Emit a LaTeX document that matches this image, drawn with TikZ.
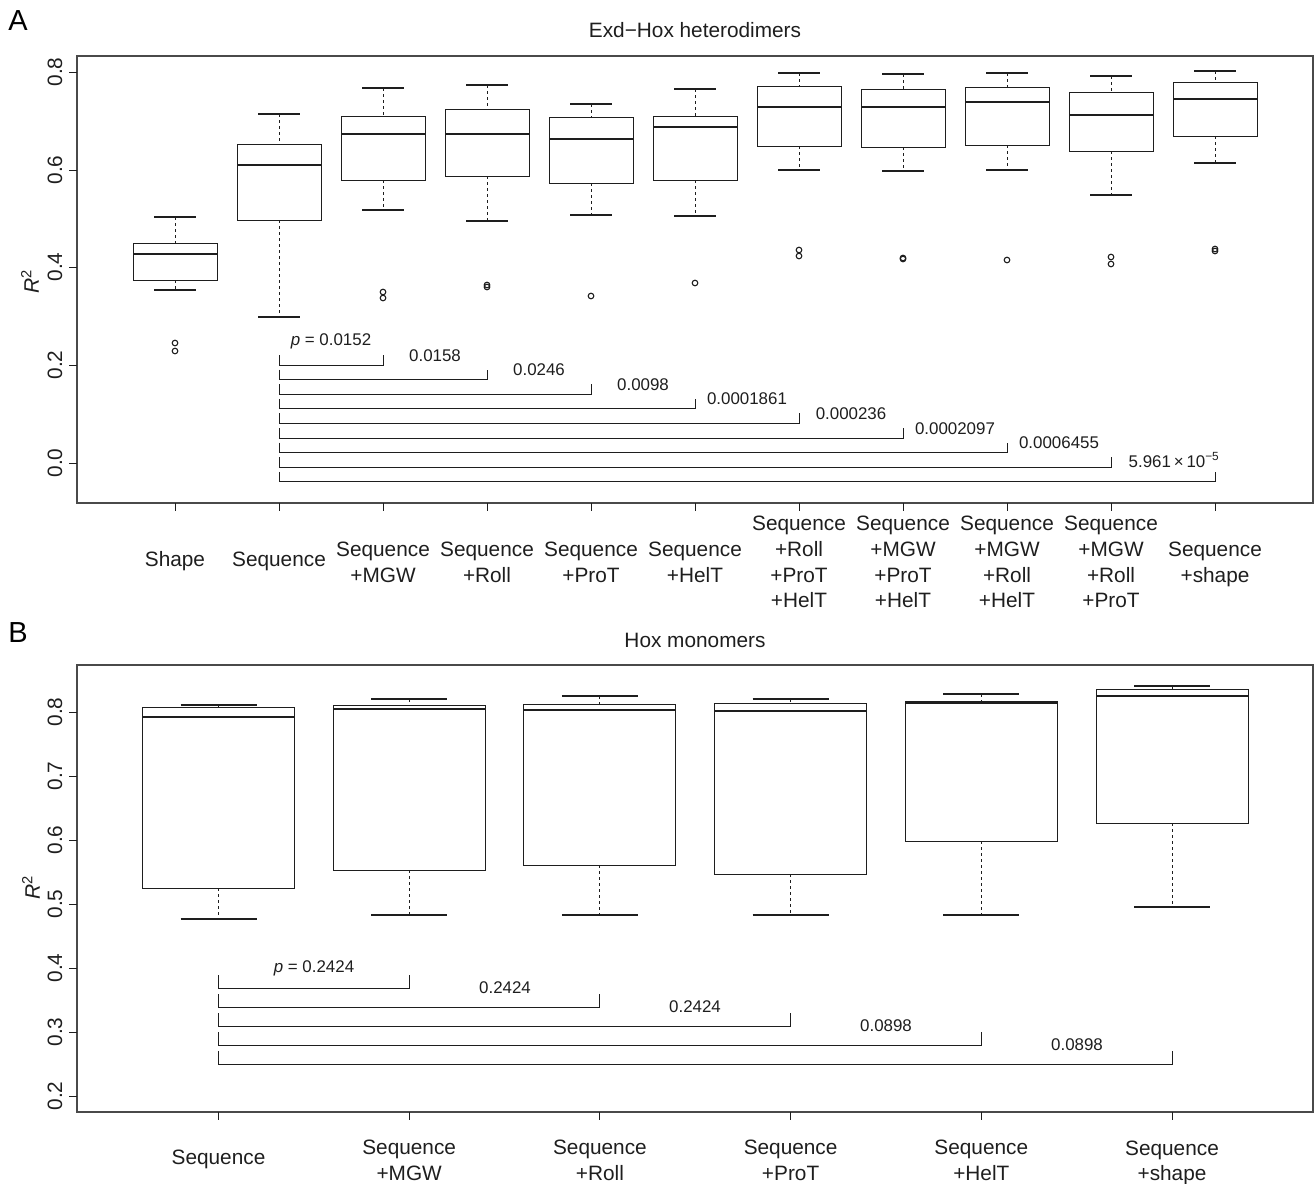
\documentclass[tikz,border=0pt]{standalone}
\usepackage{fontspec}
\setmainfont{Liberation Sans}
\definecolor{ink}{HTML}{1E1E1E}
\definecolor{framec}{HTML}{4A4A4A}
\newcommand\bxp[8]{% x, half box, half cap, upper whisker, box top, median, box bottom, lower whisker
  \draw[wsk] (#1,#4) -- (#1,#5);
  \draw[wsk] (#1,#7) -- (#1,#8);
  \draw[capl] ({#1-#3},#4) -- ({#1+#3},#4);
  \draw[capl] ({#1-#3},#8) -- ({#1+#3},#8);
  \draw[boxl] ({#1-#2},#5) rectangle ({#1+#2},#7);
  \draw[med] ({#1-#2},#6) -- ({#1+#2},#6);
}
\newcommand\brk[4]{% x left, x right, y, tick height
  \draw[brl] (#1,#3-#4) -- (#1,#3) -- (#2,#3) -- (#2,#3-#4);
}
\begin{document}
\begin{tikzpicture}[x=1pt,y=-1pt,
  txt/.style={font=\fontsize{20.8}{25.7}\selectfont, text=ink, inner sep=0pt, align=center},
  ytl/.style={font=\fontsize{20.8}{24}\selectfont, text=ink, inner sep=0pt, rotate=90},
  pv/.style={font=\fontsize{16.9}{20}\selectfont, text=ink, inner sep=0pt},
  panel/.style={font=\fontsize{29}{32}\selectfont, text=black, inner sep=0pt},
  frame/.style={draw=framec, line width=1.2pt},
  boxl/.style={draw=ink, line width=1.0pt},
  med/.style={draw=ink, line width=2.8pt},
  wsk/.style={draw=ink, line width=0.9pt, dash pattern=on 3pt off 3pt},
  capl/.style={draw=ink, line width=1.1pt},
  brl/.style={draw=ink, line width=1.0pt},
  outl/.style={draw=ink, line width=1.1pt},
  tickl/.style={draw=ink, line width=1.0pt},
]
\useasboundingbox (0,0) rectangle (1314,1183);

% ================= Panel A =================
\node[panel] (labA) at (18,21) {A};
\node[txt] (titA) at (695,30) {Exd−Hox heterodimers};
\draw[frame] (77,56) rectangle (1313,503);

% y axis
\foreach \v/\yy in {0.0/463,0.2/365,0.4/267,0.6/170,0.8/72}{
  \draw[tickl] (69,\yy) -- (77,\yy);
  \node[ytl] at (55,\yy) {\v};
}
\node[ytl, font=\fontsize{21}{24}\selectfont] (rA) at (30,282) {\itshape R\textsuperscript{\upshape 2}};

% x ticks
\foreach \i in {0,...,10}{
  \draw[tickl] ({175+104*\i},503) -- ({175+104*\i},511);
}

% boxes
\bxp{175}{42}{21}{217}{243}{254}{280}{290}
\bxp{279}{42}{21}{114}{144}{165}{220}{317}
\bxp{383}{42}{21}{88}{116}{134}{180}{210}
\bxp{487}{42}{21}{85}{109}{134}{176}{221}
\bxp{591}{42}{21}{104}{117}{139}{183}{215}
\bxp{695}{42}{21}{89}{116}{127}{180}{216}
\bxp{799}{42}{21}{73}{86}{107}{146}{170}
\bxp{903}{42}{21}{74}{89}{107}{147}{171}
\bxp{1007}{42}{21}{73}{87}{102}{145}{170}
\bxp{1111}{42}{21}{76}{92}{115}{151}{195}
\bxp{1215}{42}{21}{71}{82}{99}{136}{163}

% outliers
\foreach \xx/\yy in {175/343,175/351,383/292,383/298,487/285,487/287,591/296,695/283,
  799/250,799/256,903/258,903/259,1007/260,1111/257,1111/264,1215/249,1215/251}{
  \draw[outl] (\xx,\yy) circle[radius=2.8];
}

% p-value brackets
\foreach \i [evaluate=\i as \xr using 383+104*\i, evaluate=\i as \yb using 365+14.6*\i] in {0,...,8}{
  \brk{279}{\xr}{\yb}{10}
}
\node[pv] (pA1) at (331,341) {{\itshape p} = 0.0152};
\node[pv] (pA2) at (435,356) {0.0158};
\node[pv] (pA3) at (539,370) {0.0246};
\node[pv] (pA4) at (643,385) {0.0098};
\node[pv] (pA5) at (747,399) {0.0001861};
\node[pv] (pA6) at (851,414) {0.000236};
\node[pv] (pA7) at (955,429) {0.0002097};
\node[pv] (pA8) at (1059,443) {0.0006455};
\node[pv] (pA9) at (1174,460) {5.961\,×\,10\textsuperscript{−5}};

% x labels
\node[txt] (xa1) at (175,561) {Shape};
\node[txt] (xa2) at (279,561) {Sequence};
\node[txt] (xa3) at (383,562) {Sequence\\+MGW};
\node[txt] (xa4) at (487,562) {Sequence\\+Roll};
\node[txt] (xa5) at (591,562) {Sequence\\+ProT};
\node[txt] (xa6) at (695,562) {Sequence\\+HelT};
\node[txt] (xa7) at (799,562) {Sequence\\+Roll\\+ProT\\+HelT};
\node[txt] (xa8) at (903,562) {Sequence\\+MGW\\+ProT\\+HelT};
\node[txt] (xa9) at (1007,562) {Sequence\\+MGW\\+Roll\\+HelT};
\node[txt] (xa10) at (1111,562) {Sequence\\+MGW\\+Roll\\+ProT};
\node[txt] (xa11) at (1215,564.5) {Sequence\\+shape};

% ================= Panel B =================
\node[panel] (labB) at (18,633) {B};
\node[txt] (titB) at (695,640) {Hox monomers};
\draw[frame] (77,665) rectangle (1313,1112);

\foreach \v/\yy in {0.2/1096,0.3/1032,0.4/968,0.5/904,0.6/840,0.7/776,0.8/712}{
  \draw[tickl] (69,\yy) -- (77,\yy);
  \node[ytl] at (55,\yy) {\v};
}
\node[ytl, font=\fontsize{21}{24}\selectfont] (rB) at (31,888) {\itshape R\textsuperscript{\upshape 2}};

\foreach \i in {0,...,5}{
  \draw[tickl] ({218.5+190.7*\i},1112) -- ({218.5+190.7*\i},1120);
}

\bxp{218.5}{76}{38}{705}{707}{717}{888}{919}
\bxp{409.2}{76}{38}{699}{705}{709}{870}{915}
\bxp{599.9}{76}{38}{696}{704}{710}{865}{915}
\bxp{790.6}{76}{38}{699}{703}{711}{874}{915}
\bxp{981.3}{76}{38}{694}{701}{702.5}{841}{915}
\bxp{1172}{76}{38}{686}{689}{696}{823}{907}

\foreach \i [evaluate=\i as \xr using 409.2+190.7*\i, evaluate=\i as \yb using 988+19*\i] in {0,...,4}{
  \brk{218.5}{\xr}{\yb}{13}
}
\node[pv] (pB1) at (314,968) {{\itshape p} = 0.2424};
\node[pv] (pB2) at (505,988) {0.2424};
\node[pv] (pB3) at (695,1007) {0.2424};
\node[pv] (pB4) at (886,1026) {0.0898};
\node[pv] (pB5) at (1077,1045) {0.0898};

\node[txt] (xb1) at (218.5,1159.5) {Sequence};
\node[txt] (xb2) at (409.2,1160.5) {Sequence\\+MGW};
\node[txt] (xb3) at (599.9,1160.5) {Sequence\\+Roll};
\node[txt] (xb4) at (790.6,1160.5) {Sequence\\+ProT};
\node[txt] (xb5) at (981.3,1160.5) {Sequence\\+HelT};
\node[txt] (xb6) at (1172,1163) {Sequence\\+shape};
\end{tikzpicture}
\end{document}
